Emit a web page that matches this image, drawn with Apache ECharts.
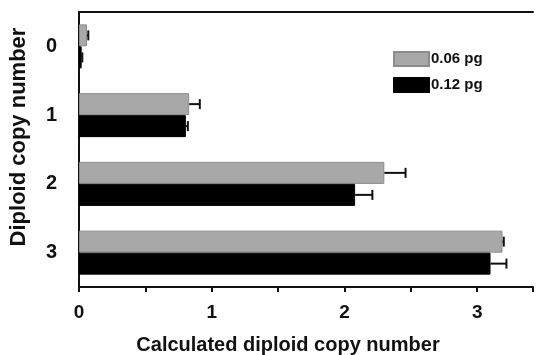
<!DOCTYPE html>
<html>
<head>
<meta charset="utf-8">
<script src="https://cdn.jsdelivr.net/npm/echarts@6/dist/echarts.min.js"></script>
<style>html,body{margin:0;padding:0;background:#fff}#c{width:536px;height:355px}</style>
</head>
<body>
<div id="c"></div>
<script>
var categories = ['0', '1', '2', '3'];
var seriesNames = ['0.06 pg', '0.12 pg'];
var values006 = [0.06, 0.83, 2.30, 3.19];
var errors006 = [0.01, 0.08, 0.16, 0.01];
var values012 = [0.02, 0.805, 2.08, 3.10];
var errors012 = [0.005, 0.015, 0.13, 0.12];
var xTicks = [0, 1, 2, 3];
var xName = 'Calculated diploid copy number';
var yName = 'Diploid copy number';

var chart = echarts.init(document.getElementById('c'));
var FONT = '"Liberation Sans", Arial, sans-serif';

function errSeries(vals, errs, offSign, name) {
  return {
    type: 'custom',
    name: name + ' err',
    z: 5,
    renderItem: function (params, api) {
      var i = api.value(0);
      var v = api.value(1);
      var e = api.value(2);
      var band = api.size([0, 1])[1];
      var off = offSign * band * 0.16;
      var p0 = api.coord([v, i]);
      var p1 = api.coord([v + e, i]);
      var y = p0[1] + off;
      var cap = 5;
      return {
        type: 'group',
        children: [
          { type: 'line', shape: { x1: p0[0], y1: y, x2: p1[0], y2: y }, style: { stroke: '#111', lineWidth: 2 } },
          { type: 'line', shape: { x1: p1[0], y1: y - cap, x2: p1[0], y2: y + cap }, style: { stroke: '#111', lineWidth: 2 } }
        ]
      };
    },
    encode: { x: 1, y: 0 },
    data: vals.map(function (v, i) { return [i, v, errs[i]]; })
  };
}

chart.setOption({
  animation: false,
  backgroundColor: '#fff',
  grid: { left: 79, right: 0, top: 12, bottom: 68 },
  legend: {
    orient: 'vertical', left: 388, top: 46,
    itemWidth: 35, itemHeight: 14, itemGap: 10,
    icon: 'rect',
    data: seriesNames,
    textStyle: { fontFamily: FONT, fontSize: 15, fontWeight: 'bold', color: '#111', padding: [0, 0, 0, -3] }
  },
  xAxis: [{
    type: 'value', min: 0, max: 3.42, interval: 0.5,
    axisLine: { show: true, lineStyle: { color: '#111', width: 2 } },
    axisTick: { show: true, length: 5, lineStyle: { color: '#111', width: 2 } },
    splitLine: { show: false },
    axisLabel: {
      margin: 16, fontFamily: FONT, fontSize: 19, fontWeight: 'bold', color: '#111',
      formatter: function (v) { return xTicks.indexOf(v) >= 0 ? String(v) : ''; }
    }
  }, {
    type: 'value', position: 'top', min: 0, max: 3.42,
    axisLine: { show: true, lineStyle: { color: '#111', width: 2 } },
    axisTick: { show: false }, axisLabel: { show: false }, splitLine: { show: false }
  }],
  yAxis: {
    type: 'category', data: categories, inverse: true,
    axisLine: { show: true, lineStyle: { color: '#111', width: 2 } },
    axisTick: { show: false },
    axisLabel: { margin: 22, fontFamily: FONT, fontSize: 20, fontWeight: 'bold', color: '#111' }
  },
  graphic: [{
    type: 'text', x: 288, y: 335,
    style: { text: xName, textAlign: 'center', textVerticalAlign: 'top', fontFamily: FONT, fontSize: 20, fontWeight: 'bold', fill: '#111' }
  }, {
    type: 'text', x: 19, y: 137, rotation: Math.PI / 2,
    style: { text: yName, textAlign: 'center', textVerticalAlign: 'middle', fontFamily: FONT, fontSize: 22, fontWeight: 'bold', fill: '#111' }
  }],
  series: [{
    name: seriesNames[0], type: 'bar', data: values006,
    barCategoryGap: '36%', barGap: '0%',
    itemStyle: { color: '#a8a8a8', borderColor: '#8c8c8c', borderWidth: 1 }
  }, {
    name: seriesNames[1], type: 'bar', data: values012,
    itemStyle: { color: '#000', borderColor: '#000', borderWidth: 1 }
  },
  errSeries(values006, errors006, -1, seriesNames[0]),
  errSeries(values012, errors012, 1, seriesNames[1])]
});
</script>
</body>
</html>
